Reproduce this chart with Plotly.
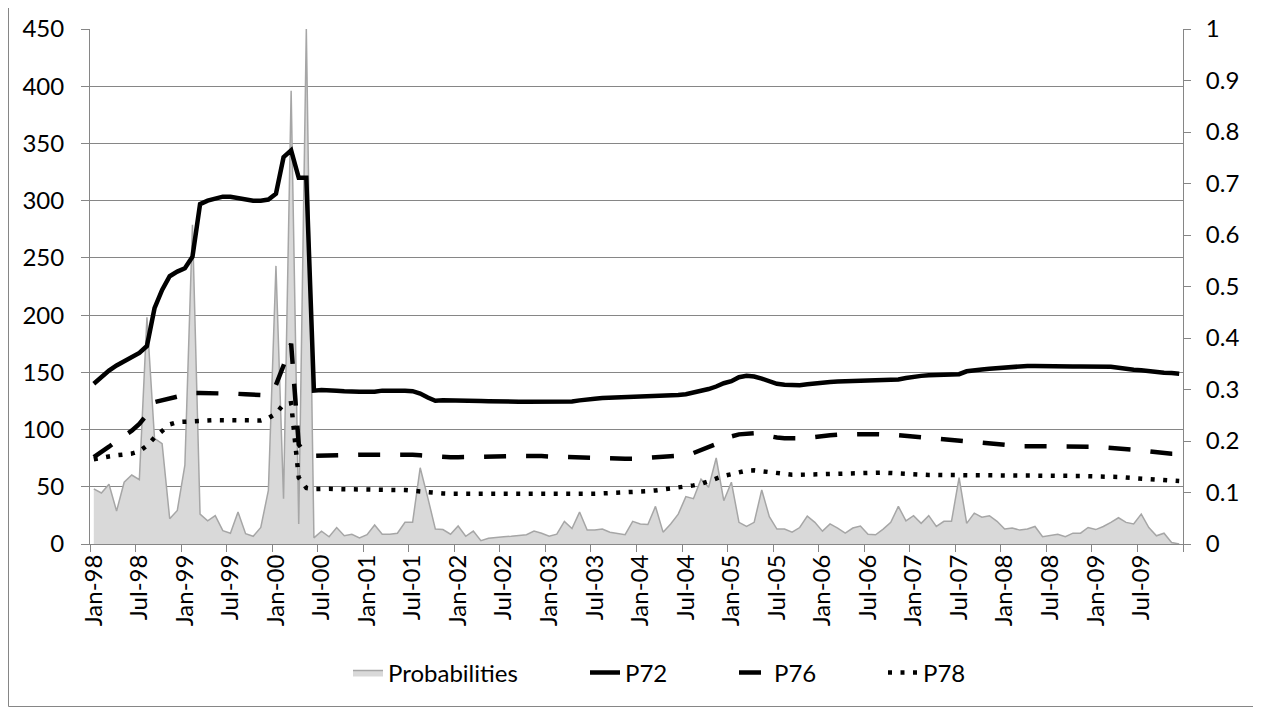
import plotly.graph_objects as go

# ---- data (monthly, Jan-98 .. Dec-09) ----
month_index = list(range(144))

tick_positions = list(range(0, 144, 6))
tick_labels = ["Jan-98", "Jul-98", "Jan-99", "Jul-99", "Jan-00", "Jul-00", "Jan-01", "Jul-01",
               "Jan-02", "Jul-02", "Jan-03", "Jul-03", "Jan-04", "Jul-04", "Jan-05", "Jul-05",
               "Jan-06", "Jul-06", "Jan-07", "Jul-07", "Jan-08", "Jul-08", "Jan-09", "Jul-09"]

probabilities = [
    0.107, 0.099, 0.116, 0.064, 0.120, 0.134, 0.125, 0.440, 0.205, 0.195,
    0.049, 0.065, 0.153, 0.620, 0.058, 0.045, 0.055, 0.026, 0.021, 0.062,
    0.020, 0.015, 0.032, 0.104, 0.540, 0.088, 0.880, 0.039, 1.000, 0.012,
    0.025, 0.014, 0.032, 0.016, 0.019, 0.012, 0.018, 0.037, 0.019, 0.019,
    0.021, 0.042, 0.042, 0.148, 0.090, 0.029, 0.028, 0.019, 0.035, 0.015,
    0.025, 0.0065, 0.011, 0.013, 0.014, 0.015, 0.016, 0.018, 0.025, 0.021,
    0.015, 0.019, 0.044, 0.030, 0.062, 0.027, 0.027, 0.029, 0.023, 0.021,
    0.018, 0.044, 0.039, 0.038, 0.073, 0.023, 0.039, 0.058, 0.092, 0.088,
    0.126, 0.110, 0.167, 0.084, 0.120, 0.042, 0.034, 0.042, 0.105, 0.053,
    0.029, 0.029, 0.023, 0.032, 0.054, 0.042, 0.025, 0.039, 0.031, 0.021,
    0.031, 0.035, 0.019, 0.018, 0.029, 0.042, 0.073, 0.045, 0.055, 0.040,
    0.055, 0.034, 0.044, 0.044, 0.129, 0.040, 0.060, 0.052, 0.055, 0.044,
    0.029, 0.031, 0.027, 0.029, 0.034, 0.014, 0.016, 0.019, 0.014, 0.021,
    0.021, 0.032, 0.028, 0.034, 0.042, 0.051, 0.042, 0.039, 0.058, 0.032,
    0.016, 0.021, 0.003, 0.000]

p72 = [
    140, 146, 151.5, 156, 159.5, 163, 167, 173, 206, 222,
    234, 238, 241, 251, 297, 300, 302, 303.5, 303.5, 302.5,
    300.5, 300, 300, 301, 306, 338, 344, 320, 320, 134,
    134.5, 134.5, 134, 133.5, 133, 133, 133, 133, 134, 134.3,
    134.3, 134, 133.5, 131.5, 128, 125.2, 125.5, 125.5, 125.8, 125.5,
    125.2, 125, 124.8, 124.5, 124.3, 124.3, 124.3, 124.3, 124.2, 124.2,
    124.3, 124.3, 124.4, 124.6, 125.5, 126.7, 127, 127.5, 127.7, 128,
    128.3, 128.4, 128.6, 129, 129.5, 129.8, 130, 130.2, 130.8, 132,
    133.3, 135.4, 137.6, 140.5, 142.2, 145.7, 146.9, 146.3, 144.5, 141.8,
    140, 139.2, 138.8, 138.8, 139.5, 140.4, 141.3, 141.6, 141.9, 142.2,
    142.6, 142.9, 143, 143.2, 143.2, 143.2, 143.8, 145, 146.3, 146.9,
    147.5, 147.5, 147.5, 147.8, 148.4, 150.9, 152.2, 152.5, 153.1, 153.7,
    154.3, 155, 155.3, 155.6, 155.6, 155.3, 155, 155, 155, 155,
    155, 155, 155, 154.8, 154.8, 154, 152.8, 152.2, 151.8, 150.9,
    150, 149.7, 149.4, 148.8]

p76 = [
    76, 80, 85, 90, 94.5, 99, 105, 113, 124, 125.5,
    127, 128.5, 130.5, 132, 132, 132, 132, 131.8, 131.5, 131.2,
    130.8, 130.5, 130.2, 131, 139, 156, 175, 87, 77.5, 77,
    77, 77, 77.5, 77.5, 77.8, 78, 78, 78.2, 78.3, 78.5,
    78.7, 78.5, 78, 77.5, 77, 76.2, 75.9, 75.9, 75.9, 75.9,
    76.2, 76.5, 76.5, 76.5, 76.5, 76.8, 77, 77.2, 77, 76.8,
    76.5, 76.2, 76, 75.9, 75.5, 75, 74.7, 74.5, 74.4, 74.4,
    74.4, 74.4, 74.6, 75.2, 75.9, 76.2, 76.5, 76.5, 77.5, 79.5,
    82, 84.5, 87.4, 91, 94, 95.8, 96.2, 96.7, 95.5, 94,
    93, 92.5, 92.2, 92, 92.5, 93.5, 94.5, 95, 95.5, 95.8,
    96, 96, 96, 96, 96, 95.5, 95, 94.2, 93.7, 93.2,
    92.7, 92.2, 91.6, 91.1, 90.5, 89.6, 89, 88.2, 87.4, 86.8,
    86.2, 85.5, 85.5, 85.5, 85.5, 85.5, 85.5, 85.5, 85.5, 85.5,
    85.5, 85.2, 84.9, 84.5, 84.2, 83.7, 83, 82.4, 81.8, 81,
    79.5, 79, 78.8, 78.7]

p78 = [
    74, 75.5, 76.5, 77.5, 78.3, 79, 81, 86, 93, 99,
    104.5, 106.5, 107, 107.5, 108, 108, 108.2, 108.2, 108.2, 108.2,
    108.2, 108, 108, 110, 114, 122, 123, 58, 49, 48,
    48.5, 48.3, 48, 48, 47.8, 47.7, 47.6, 47.5, 47.4, 47.3,
    47.5, 47.1, 46.5, 45.8, 45, 44.5, 44.2, 44, 44, 44,
    43.8, 43.7, 43.6, 43.5, 43.4, 43.3, 43.2, 43.2, 43.1, 43.1,
    43.1, 43.1, 43.2, 43.3, 43.5, 43.8, 44, 44.2, 44.4, 44.5,
    44.8, 45.2, 45.6, 46.2, 46.8, 47.5, 48.2, 49, 50, 51.2,
    52.5, 55, 57.5, 59.5, 61, 62.5, 64.2, 64.4, 63.5, 62.3,
    61.5, 60.8, 60.5, 60.5, 60.7, 61, 61.5, 61.8, 62, 62.2,
    62.5, 62.6, 62.6, 62.5, 62.4, 62, 61.5, 61, 60.7, 60.4,
    60.3, 60.3, 60.3, 60.3, 60.3, 60.3, 60.3, 60.3, 60.3, 60,
    59.8, 59.8, 59.8, 59.8, 59.8, 59.8, 59.5, 59.5, 59.5, 59.5,
    59.5, 59.2, 59.2, 59.2, 59.2, 58.6, 58, 57.6, 57, 56.5,
    56, 55.6, 55.3, 55]

# ---- figure ----
FONT = "Lato, 'Open Sans', Arial, sans-serif"
GRID = "#868686"
TICK_SIZE = 24

# figure is shown with an 8px page margin, so its own coordinates are screen - 8
W, H = 1253, 701
L, R, T, B = 82, 78, 21, 165
PW, PH = W - L - R, H - T - B


def px_x(fx):
    return (fx - L) / PW


def px_y(fy):
    return (H - B - fy) / PH


fig = go.Figure()
fig.add_trace(go.Scatter(
    x=month_index, y=probabilities, name="Probabilities", mode="lines",
    fill="tozeroy", fillcolor="#d9d9d9", line=dict(color="#a6a6a6", width=1.5),
    yaxis="y", legend="legend"))
fig.add_trace(go.Scatter(
    x=month_index, y=p72, name="P72", mode="lines",
    line=dict(color="black", width=4.5), yaxis="y2", legend="legend2"))
fig.add_trace(go.Scatter(
    x=month_index, y=p76, name="P76", mode="lines",
    line=dict(color="black", width=4.5, dash="22px,20px"), yaxis="y2", legend="legend3"))
fig.add_trace(go.Scatter(
    x=month_index, y=p78, name="P78", mode="lines",
    line=dict(color="black", width=4.5, dash="4px,8.5px"), yaxis="y2", legend="legend4"))

leg_font = dict(family=FONT, size=24, color="black")
leg_y = px_y(665)


def leg(text_left):
    return dict(orientation="h", x=px_x(text_left - 42), xanchor="left", y=leg_y,
                yanchor="middle", font=leg_font, bgcolor="rgba(0,0,0,0)", borderwidth=0)


fig.update_layout(
    width=W, height=H,
    margin=dict(l=L, r=R, t=T, b=B, autoexpand=False),
    paper_bgcolor="white", plot_bgcolor="white",
    font=dict(family=FONT, size=TICK_SIZE, color="black"),
    showlegend=True,
    legend=leg(382), legend2=leg(619), legend3=leg(768), legend4=leg(917),
    xaxis=dict(
        range=[-0.5, 143.5], tickmode="array", tickvals=tick_positions, ticktext=tick_labels,
        ticks="", tickangle=-90, showgrid=False, zeroline=False, automargin=False,
        showline=True, linecolor=GRID, linewidth=1,
        minor=dict(ticks="outside", ticklen=7, tickcolor=GRID, tickwidth=1,
                   tickmode="array", tickvals=[p - 0.5 for p in range(0, 145, 6)],
                   showgrid=False),
        tickfont=dict(family=FONT, size=TICK_SIZE, color="black"),
    ),
    yaxis=dict(
        side="right", range=[0, 1], tickmode="linear", tick0=0, dtick=0.1,
        ticks="outside", ticklen=7, tickcolor=GRID, showgrid=False, zeroline=False,
        showline=True, linecolor=GRID, linewidth=1, automargin=False,
        tickfont=dict(family=FONT, size=TICK_SIZE, color="black"), ticklabelstandoff=10,
    ),
    yaxis2=dict(
        overlaying="y", side="left", anchor="x", range=[0, 450], tickmode="linear",
        tick0=0, dtick=50, ticks="outside", ticklen=8, tickcolor=GRID,
        showgrid=True, gridcolor=GRID, gridwidth=1, zeroline=False,
        showline=True, linecolor=GRID, linewidth=1, automargin=False,
        tickfont=dict(family=FONT, size=TICK_SIZE, color="black"), ticklabelstandoff=12,
    ),
    shapes=[dict(type="rect", xref="paper", yref="paper",
                 x0=px_x(0.5), x1=px_x(1245.5),
                 y0=px_y(698.5), y1=px_y(-60),
                 line=dict(color=GRID, width=1), fillcolor="rgba(0,0,0,0)", layer="below")],
)

fig.write_html("out.html")
